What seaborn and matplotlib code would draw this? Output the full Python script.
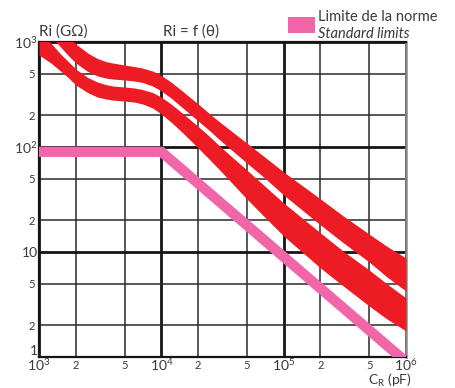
import numpy as np
import pandas as pd
import matplotlib
matplotlib.use("Agg")
import matplotlib.pyplot as plt
from matplotlib.patches import Rectangle
from matplotlib.ticker import FixedLocator, FixedFormatter
import seaborn as sns

# ---------------- data ----------------
cap_pf = [1e3, 1.25e3, 1.5e3, 1.75e3, 2e3, 2.5e3, 3e3, 3.5e3, 4e3, 5e3, 6e3,
          7e3, 8.5e3, 1e4, 1.2e4, 1.5e4, 2e4, 2.5e4, 3e4, 5e4, 7e4, 1e5,
          2e5, 3e5, 5e5, 7e5, 1e6]
upper_top = [2017, 1620, 1330, 1116, 957, 786, 697, 652, 631, 604, 584,
             565, 529, 480, 416, 338, 257, 206, 173, 109, 80.3, 57.8,
             32.0, 22.5, 14.8, 11.3, 8.77]
upper_bottom = [1484, 1141, 896, 736, 631, 524, 475, 454, 444, 435, 425,
                412, 381, 341, 293, 235, 177, 142, 117, 70.4, 50.7, 34.9,
                18.1, 12.5, 8.03, 5.78, 4.25]
lower_top = [1301, 979, 769, 645, 553, 459, 416, 394, 381, 373, 365,
             353, 330, 299, 257, 208, 157, 125, 102, 60.4, 42.5, 29.3,
             15.2, 10.4, 6.74, 4.96, 3.65]
lower_bottom = [752, 631, 529, 454, 389, 330, 299, 287, 280, 274, 268,
                257, 235, 206, 173, 136, 97.8, 75.2, 60.4, 32.0, 21.5, 14.2,
                7.04, 4.85, 3.06, 2.30, 1.77]

limit_x = [1e3, 1e4, 1e6]
limit_y = [90, 90, 0.9]

x_major = [1e3, 1e4, 1e5, 1e6]
x_major_labels = ["10$^{3}$", "10$^{4}$", "10$^{5}$", "10$^{6}$"]
x_minor = [2e3, 5e3, 2e4, 5e4, 2e5, 5e5]
x_minor_labels = ["2", "5", "2", "5", "2", "5"]
y_major = [1, 10, 100, 1000]
y_major_labels = ["1", "10", "10$^{2}$", "10$^{3}$"]
y_minor = [2, 5, 20, 50, 200, 500]
y_minor_labels = ["2", "5", "2", "5", "2", "5"]

# ---------------- style ----------------
sns.set_style("white")
plt.rcParams["font.family"] = ["Lato", "DejaVu Sans"]
plt.rcParams["mathtext.default"] = "regular"

RED = "#ED1C24"
PINK = "#F066A9"
TXT = "#3a3a3a"

fig = plt.figure(figsize=(4.56, 3.88), dpi=100)
ax = fig.add_axes([39 / 456, 1 - 357 / 388, (406 - 39) / 456, (357 - 42) / 388])
ax.set_xscale("log")
ax.set_yscale("log")
ax.set_xlim(1e3, 1e6)
ax.set_ylim(1, 1000)

ax.xaxis.set_major_locator(FixedLocator(x_major))
ax.xaxis.set_minor_locator(FixedLocator(x_minor))
ax.yaxis.set_major_locator(FixedLocator(y_major))
ax.yaxis.set_minor_locator(FixedLocator(y_minor))
ax.xaxis.set_major_formatter(FixedFormatter(x_major_labels))
ax.xaxis.set_minor_formatter(FixedFormatter(x_minor_labels))
ax.yaxis.set_major_formatter(FixedFormatter(y_major_labels))
ax.yaxis.set_minor_formatter(FixedFormatter(y_minor_labels))
ax.grid(True, which="major", color="#151515", linewidth=2.0, zorder=0)
ax.grid(True, which="minor", color="#2a2a2a", linewidth=1.1, zorder=0)
ax.set_axisbelow(True)
ax.tick_params(which="both", length=0, colors=TXT)
ax.tick_params(axis="x", which="major", labelsize=10, pad=0)
ax.tick_params(axis="x", which="minor", labelsize=8, pad=2)
ax.tick_params(axis="y", which="major", labelsize=10, pad=1)
ax.tick_params(axis="y", which="minor", labelsize=8, pad=3)

for side in ["left", "bottom", "top"]:
    ax.spines[side].set_color("#151515")
    ax.spines[side].set_linewidth(1.6)
ax.spines["right"].set_color("#8a8a8a")
ax.spines["right"].set_linewidth(1.8)

# red bands
df = pd.DataFrame({"C": cap_pf, "ut": upper_top, "ub": upper_bottom,
                   "lt": lower_top, "lb": lower_bottom})
ax.fill_between(df["C"], df["ub"], df["ut"], color=RED, linewidth=0, zorder=3)
ax.fill_between(df["C"], df["lb"], df["lt"], color=RED, linewidth=0, zorder=3)

# standard limit (pink thick line)
lim = pd.DataFrame({"C": limit_x, "R": limit_y})
sns.lineplot(data=lim, x="C", y="R", ax=ax, color=PINK, linewidth=7.4,
             solid_joinstyle="miter", solid_capstyle="butt", zorder=4)
ax.set_xlabel("")
ax.set_ylabel("")

# lift the y label "1" off the corner
fig.canvas.draw()
for lab in ax.get_yticklabels(which="major"):
    if lab.get_text() == "1":
        lab.set_va("bottom")

# texts
fig.text(39 / 456, 1 - 36 / 388, "Ri (GΩ)", fontsize=11, color=TXT,
         ha="left", va="baseline")
fig.text(163 / 456, 1 - 36 / 388, "Ri = f (θ)", fontsize=11, color=TXT,
         ha="left", va="baseline")
fig.text(368 / 456, 1 - 385 / 388, "C$_{R}$ (pF)", fontsize=10, color=TXT,
         ha="left", va="baseline")

# legend
fig.patches.append(Rectangle((288 / 456, 1 - 33 / 388), 27 / 456, 16 / 388,
                             transform=fig.transFigure, color=PINK,
                             linewidth=0))
fig.text(318 / 456, 1 - 21 / 388, "Limite de la norme", fontsize=10.5,
         color=TXT, ha="left", va="baseline")
fig.text(318 / 456, 1 - 38 / 388, "Standard limits", fontsize=10.5,
         color=TXT, ha="left", va="baseline", style="italic")

fig.savefig("out.png", dpi=100)
